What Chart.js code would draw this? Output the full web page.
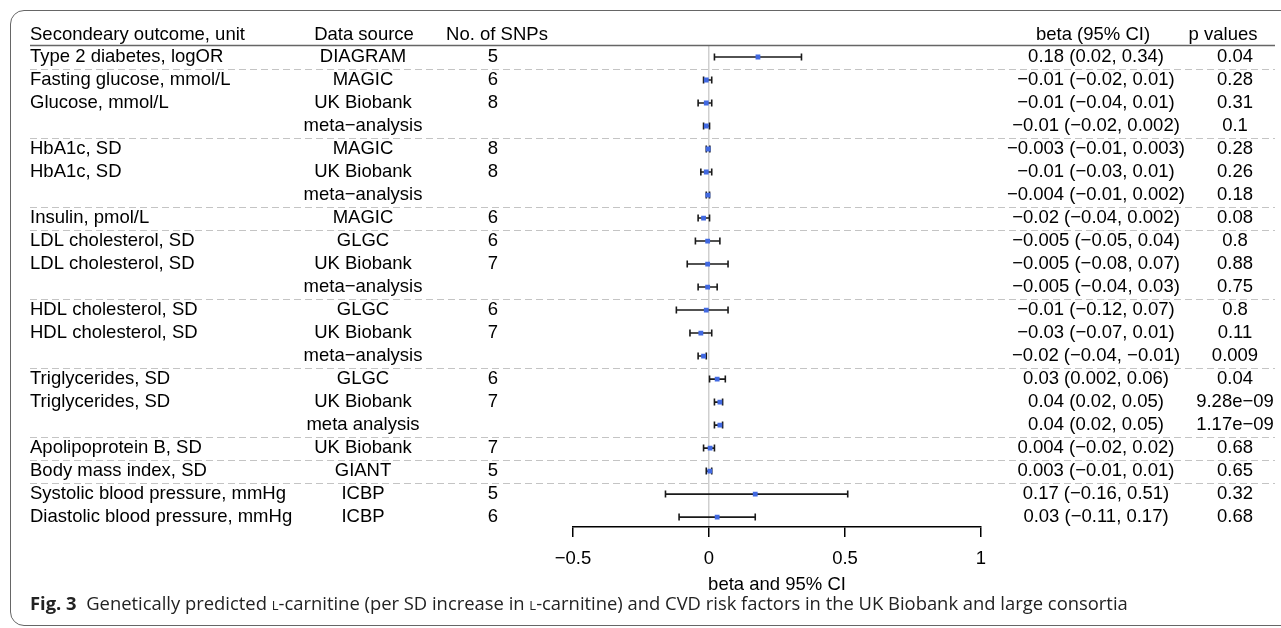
<!DOCTYPE html>
<html><head><meta charset="utf-8">
<script src="https://cdn.jsdelivr.net/npm/chart.js@4.4.1/dist/chart.umd.min.js"></script>
<style>
html,body{margin:0;padding:0;background:#fff;width:1281px;height:628px;overflow:hidden;}
#frame{position:absolute;left:10px;top:10px;width:1320px;height:614px;border:1.5px solid #666;border-radius:14px;}
#wrap{position:absolute;left:0;top:0;width:1281px;height:628px;}
#cap{position:absolute;left:30px;top:590px;font-family:"Open Sans";font-size:18.4px;color:#222;white-space:nowrap;}
#cap b{font-weight:700;}
</style></head><body>
<div id="frame"></div>
<div id="wrap"><canvas id="c" width="1281" height="628"></canvas></div>
<div id="cap"><b>Fig. 3</b>&nbsp; Genetically predicted <span style="font-variant:small-caps">l</span>-carnitine (per SD increase in <span style="font-variant:small-caps">l</span>-carnitine) and CVD risk factors in the UK Biobank and large consortia</div>
<script>
const outcomes = ["Type 2 diabetes, logOR","Fasting glucose, mmol/L","Glucose, mmol/L","","HbA1c, SD","HbA1c, SD","","Insulin, pmol/L","LDL cholesterol, SD","LDL cholesterol, SD","","HDL cholesterol, SD","HDL cholesterol, SD","","Triglycerides, SD","Triglycerides, SD","","Apolipoprotein B, SD","Body mass index, SD","Systolic blood pressure, mmHg","Diastolic blood pressure, mmHg"];
const sources = ["DIAGRAM","MAGIC","UK Biobank","meta\u2212analysis","MAGIC","UK Biobank","meta\u2212analysis","MAGIC","GLGC","UK Biobank","meta\u2212analysis","GLGC","UK Biobank","meta\u2212analysis","GLGC","UK Biobank","meta analysis","UK Biobank","GIANT","ICBP","ICBP"];
const nSNPs = ["5","6","8","","8","8","","6","6","7","","6","7","","6","7","","7","5","5","6"];
const beta = [0.18,-0.01,-0.01,-0.01,-0.003,-0.01,-0.004,-0.02,-0.005,-0.005,-0.005,-0.01,-0.03,-0.02,0.03,0.04,0.04,0.004,0.003,0.17,0.03];
const lower = [0.02,-0.02,-0.04,-0.02,-0.01,-0.03,-0.01,-0.04,-0.05,-0.08,-0.04,-0.12,-0.07,-0.04,0.002,0.02,0.02,-0.02,-0.01,-0.16,-0.11];
const upper = [0.34,0.01,0.01,0.002,0.003,0.01,0.002,0.002,0.04,0.07,0.03,0.07,0.01,-0.01,0.06,0.05,0.05,0.02,0.01,0.51,0.17];
const pValues = ["0.04","0.28","0.31","0.1","0.28","0.26","0.18","0.08","0.8","0.88","0.75","0.8","0.11","0.009","0.04","9.28e\u221209","1.17e\u221209","0.68","0.65","0.32","0.68"];
const groupEnds = [0,3,6,7,10,13,16,17,18];
const headers = ["Secondeary outcome, unit","Data source","No. of SNPs","beta (95% CI)","p values"];
const xTicks = [-0.5,0,0.5,1];

const FONT = '"Liberation Sans", Arial, Helvetica, sans-serif';
const FS = 18.5;
const fmt = v => String(v).replace('-', '\u2212');

const tablePlugin = {
  id: 'table',
  beforeDatasetsDraw(chart) {
    const ctx = chart.ctx, xs = chart.scales.x, ys = chart.scales.y;
    ctx.save();
    ctx.strokeStyle = '#666'; ctx.lineWidth = 1.5; ctx.setLineDash([]);
    const yh = ys.getPixelForValue(-0.5);
    ctx.beginPath(); ctx.moveTo(30, yh); ctx.lineTo(1275, yh); ctx.stroke();
    ctx.strokeStyle = '#c4c4c4'; ctx.lineWidth = 1.2; ctx.setLineDash([7,4]);
    groupEnds.forEach(i => {
      const y = Math.round(ys.getPixelForValue(i + 0.5)) + 0.5;
      ctx.beginPath(); ctx.moveTo(30, y); ctx.lineTo(1275, y); ctx.stroke();
    });
    ctx.setLineDash([]);
    ctx.fillStyle = '#000'; ctx.font = FS + 'px ' + FONT; ctx.textBaseline = 'middle';
    const yH = ys.getPixelForValue(-1) + 1;
    ctx.textAlign = 'left'; ctx.fillText(headers[0], 30, yH);
    ctx.textAlign = 'center';
    ctx.fillText(headers[1], 364, yH);
    ctx.fillText(headers[2], 497, yH);
    ctx.fillText(headers[3], 1093, yH);
    ctx.fillText(headers[4], 1223, yH);
    outcomes.forEach((o, i) => {
      const y = ys.getPixelForValue(i);
      ctx.textAlign = 'left'; ctx.fillText(o, 30, y);
      ctx.textAlign = 'center';
      ctx.fillText(sources[i], 363, y);
      ctx.fillText(nSNPs[i], 493, y);
      ctx.fillText(fmt(beta[i]) + ' (' + fmt(lower[i]) + ', ' + fmt(upper[i]) + ')', 1096, y);
      ctx.fillText(pValues[i], 1235, y);
    });
    ctx.strokeStyle = '#1a1a1a'; ctx.lineWidth = 1.6;
    beta.forEach((b, i) => {
      const y = ys.getPixelForValue(i);
      const x1 = xs.getPixelForValue(lower[i]), x2 = xs.getPixelForValue(upper[i]);
      ctx.beginPath();
      ctx.moveTo(x1, y); ctx.lineTo(x2, y);
      ctx.moveTo(x1, y - 3.5); ctx.lineTo(x1, y + 3.5);
      ctx.moveTo(x2, y - 3.5); ctx.lineTo(x2, y + 3.5);
      ctx.stroke();
    });
    ctx.restore();
  }
};

new Chart(document.getElementById('c'), {
  type: 'scatter',
  data: { datasets: [{
    data: beta.map((b, i) => ({x: b, y: i})),
    pointStyle: 'rect', pointRadius: 3.4, pointHoverRadius: 3.4,
    backgroundColor: '#4169E1', borderColor: '#4169E1', borderWidth: 0
  }]},
  options: {
    responsive: false, animation: false, devicePixelRatio: 1,
    layout: { padding: { left: 573, right: 300, top: 45.5, bottom: 40.7 } },
    plugins: { legend: { display: false }, tooltip: { enabled: false } },
    scales: {
      x: {
        type: 'linear', min: -0.5, max: 1,
        afterBuildTicks: s => { s.ticks = xTicks.map(v => ({value: v})); },
        ticks: { callback: v => fmt(v), color: '#000', font: { family: FONT, size: FS, lineHeight: 1 }, padding: 12.75, maxRotation: 0 },
        grid: { color: c => (c.tick && c.tick.value === 0) ? '#cfcfcf' : 'rgba(0,0,0,0)', tickColor: '#000', tickLength: 10, lineWidth: 1.5, drawOnChartArea: true },
        border: { color: '#000', width: 1.5 },
        title: { display: true, text: 'beta and 95% CI', color: '#000', font: { family: FONT, size: FS, lineHeight: 0.3 }, padding: { top: 0.75, bottom: 0 } }
      },
      y: { type: 'linear', reverse: true, min: -0.5, max: 20.43, display: false }
    }
  },
  plugins: [tablePlugin]
});
</script>
</body></html>
